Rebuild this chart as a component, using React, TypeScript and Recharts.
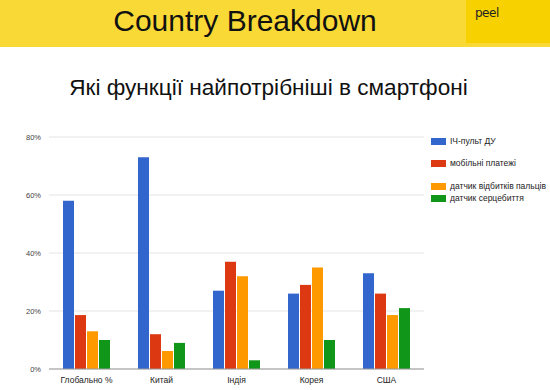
import { BarChart, Bar, XAxis, YAxis, CartesianGrid } from 'recharts'

const countries = ['Глобально %', 'Китай', 'Індія', 'Корея', 'США']
const remote = [0.58, 0.73, 0.27, 0.26, 0.33]
const payments = [0.186, 0.12, 0.37, 0.29, 0.26]
const fingerprint = [0.13, 0.062, 0.32, 0.35, 0.186]
const heartRate = [0.1, 0.09, 0.03, 0.1, 0.21]
const yTicks = [0, 0.2, 0.4, 0.6, 0.8]

const series = [
  { key: 'remote', name: 'ІЧ-пульт ДУ', color: '#3366cc', values: remote },
  { key: 'payments', name: 'мобільні платежі', color: '#dc3912', values: payments },
  { key: 'fingerprint', name: 'датчик відбитків пальців', color: '#ff9900', values: fingerprint },
  { key: 'heart', name: 'датчик серцебиття', color: '#109618', values: heartRate },
]

const data = countries.map((c, i) => {
  const row: Record<string, string | number> = { country: c }
  series.forEach((s) => (row[s.key] = s.values[i]))
  return row
})

// the legend rows are not evenly spaced in the original
const legendTops = [0, 14, 15, 4]

function LegendBox() {
  return (
    <div
      style={{
        position: 'absolute',
        left: 431,
        top: 137,
        fontFamily: '"Liberation Sans", Arial, sans-serif',
        fontSize: 8.5,
        color: '#222',
      }}
    >
      {series.map((s, i) => (
        <div key={s.key} style={{ display: 'flex', alignItems: 'center', marginTop: legendTops[i], height: 8 }}>
          <span style={{ width: 15, height: 7, background: s.color, display: 'inline-block', marginRight: 4 }} />
          <span>{s.name}</span>
        </div>
      ))}
    </div>
  )
}

export default function App() {
  return (
    <div style={{ position: 'absolute', left: 0, top: 0, width: 550, height: 390, background: '#fff', overflow: 'hidden' }}>
      <div style={{ position: 'absolute', left: 0, top: 0, width: 550, height: 47, background: '#f9d935' }} />
      <div style={{ position: 'absolute', left: 466, top: 0, width: 84, height: 43, background: '#f7d200' }} />
      <div
        style={{
          position: 'absolute',
          left: 475,
          top: 6,
          fontFamily: '"DejaVu Sans", sans-serif',
          fontSize: 12,
          letterSpacing: -0.5,
          color: '#222',
        }}
      >
        peel
      </div>
      <div
        style={{
          position: 'absolute',
          left: 0,
          width: 490,
          top: 4,
          textAlign: 'center',
          fontFamily: '"Liberation Sans", Arial, sans-serif',
          fontSize: 30,
          color: '#111',
        }}
      >
        Country Breakdown
      </div>
      <div
        style={{
          position: 'absolute',
          left: 0,
          width: 537,
          top: 75,
          textAlign: 'center',
          fontFamily: '"Liberation Sans", Arial, sans-serif',
          fontSize: 22.6,
          color: '#111',
        }}
      >
        Які функції найпотрібніші в смартфоні
      </div>
      <div style={{ position: 'absolute', left: 0, top: 0 }}>
        <BarChart
          width={550}
          height={390}
          data={data}
          margin={{ top: 137, right: 126, left: 0, bottom: 0 }}
          barCategoryGap={14}
          barGap={1}
        >
          <CartesianGrid vertical={false} stroke="#e4e4e4" />
          <YAxis
            domain={[0, 0.8]}
            ticks={yTicks}
            width={49}
            tickFormatter={(v) => `${Math.round(v * 100)}%`}
            tick={{ fontSize: 7.5, fill: '#444', fontFamily: '"Liberation Sans", Arial, sans-serif' }}
            tickLine={false}
            axisLine={false}
            tickSize={0}
            tickMargin={8}
          />
          <XAxis
            dataKey="country"
            height={21}
            tick={{ fontSize: 8.5, fill: '#222', fontFamily: '"Liberation Sans", Arial, sans-serif' }}
            tickLine={false}
            axisLine={{ stroke: '#999' }}
            tickSize={0}
            tickMargin={8}
            interval={0}
          />
          {series.map((s) => (
            <Bar key={s.key} dataKey={s.key} name={s.name} fill={s.color} isAnimationActive={false} />
          ))}
        </BarChart>
      </div>
      <LegendBox />
    </div>
  )
}
